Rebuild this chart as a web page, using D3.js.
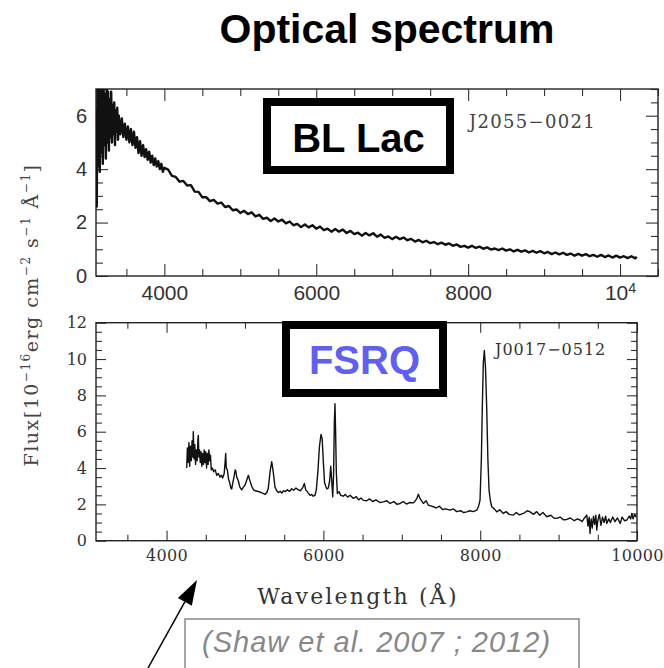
<!DOCTYPE html>
<html>
<head>
<meta charset="utf-8">
<script src="https://cdn.jsdelivr.net/npm/d3@7"></script>
<style>
  body { margin: 0; background: #fff; }
  svg { display: block; }
</style>
</head>
<body>
<svg id="chart" width="664" height="668"></svg>
<script>
// ---- Spectra: [wavelength (Å), flux (1e-16 erg cm^-2 s^-1 Å^-1)] ----
const blLacSpectrum = [
  [3100,6.2],[3110,2.6],[3120,7.4],[3130,4.1],[3140,7.6],[3150,3.9],[3160,6.9],[3170,4.6],
  [3180,7.5],[3190,4.2],[3200,7.2],[3210,4.9],[3220,6.8],[3230,4.4],[3240,7.3],[3250,5.0],
  [3260,6.9],[3270,4.7],[3280,6.6],[3290,5.2],[3300,6.9],[3310,5.0],[3320,6.4],[3330,5.3],
  [3340,6.5],[3350,4.9],[3360,6.2],[3370,5.4],[3380,6.3],[3390,5.1],[3400,6.0],
  [3420,5.3],[3440,5.9],[3460,5.2],[3480,5.7],[3500,5.1],[3520,5.6],[3540,5.0],[3560,5.5],
  [3580,4.9],[3600,5.4],[3620,4.8],[3640,5.2],[3660,4.6],[3680,5.05],[3700,4.5],[3720,4.9],
  [3740,4.45],[3760,4.75],[3780,4.35],[3800,4.65],[3820,4.25],[3840,4.5],[3860,4.15],[3880,4.4],
  [3900,4.1],[3920,4.3],[3940,4.0],[3960,4.2],[3980,3.9],[4000,4.05],
  [4050,3.98],[4100,3.75],[4150,3.71],[4200,3.53],[4250,3.56],[4300,3.39],[4350,3.40],[4400,3.16],
  [4450,3.15],[4500,2.95],[4550,2.95],[4600,2.80],[4650,2.85],[4700,2.71],[4750,2.75],[4800,2.58],
  [4850,2.62],[4900,2.46],[4950,2.49],[5000,2.36],[5050,2.44],[5100,2.32],[5150,2.38],[5200,2.23],
  [5250,2.29],[5300,2.14],[5350,2.18],[5400,2.06],[5450,2.15],[5500,2.04],[5550,2.11],[5600,1.97],
  [5650,2.04],[5700,1.90],[5750,1.95],[5800,1.83],[5850,1.93],[5900,1.82],[5950,1.90],[6000,1.77],
  [6050,1.85],[6100,1.72],[6150,1.77],[6200,1.66],[6250,1.76],[6300,1.66],[6350,1.74],[6400,1.61],
  [6450,1.69],[6500,1.57],[6550,1.62],[6600,1.51],[6650,1.61],[6700,1.52],[6750,1.60],[6800,1.47],
  [6850,1.55],[6900,1.43],[6950,1.48],[7000,1.38],[7050,1.47],[7100,1.38],[7150,1.44],[7200,1.34],
  [7250,1.39],[7300,1.29],[7350,1.35],[7400,1.26],[7450,1.32],[7500,1.23],[7550,1.27],[7600,1.19],
  [7650,1.25],[7700,1.17],[7750,1.22],[7800,1.13],[7850,1.18],[7900,1.09],[7950,1.13],[8000,1.06],
  [8050,1.13],[8100,1.05],[8150,1.10],[8200,1.02],[8250,1.07],[8300,0.99],[8350,1.03],[8400,0.97],
  [8450,1.03],[8500,0.95],[8550,1.00],[8600,0.92],[8650,0.98],[8700,0.91],[8750,0.96],[8800,0.88],
  [8850,0.94],[8900,0.87],[8950,0.93],[9000,0.85],[9050,0.90],[9100,0.82],[9150,0.88],[9200,0.81],
  [9250,0.87],[9300,0.79],[9350,0.84],[9400,0.76],[9450,0.83],[9500,0.76],[9550,0.82],[9600,0.74],
  [9650,0.79],[9700,0.72],[9750,0.79],[9800,0.71],[9850,0.77],[9900,0.69],[9950,0.76],[10000,0.69],
  [10050,0.74],[10100,0.67],[10150,0.74],[10200,0.66],[10220,0.72]
];

const fsrqSpectrum = [
  [4257,4.0],[4265,5.1],[4275,4.3],[4285,5.4],[4295,4.1],[4305,5.2],[4315,4.4],[4325,5.5],
  [4335,4.6],[4341,6.0],[4350,4.5],[4360,5.3],[4370,4.2],[4380,5.0],[4390,4.4],[4400,5.6],
  [4405,5.8],[4412,4.6],[4420,5.0],[4430,4.3],[4440,4.9],[4450,4.1],[4460,4.8],[4470,4.2],
  [4480,5.0],[4490,4.3],[4500,4.9],[4510,4.0],[4520,4.8],[4530,4.2],[4540,5.0],[4550,4.4],
  [4560,4.7],[4570,3.9],[4585,4.0],[4600,3.8],[4620,3.9],[4640,3.6],[4660,3.7],[4682,3.5],
  [4700,3.6],[4715,3.45],[4735,3.7],[4748,4.4],[4754,4.8],[4762,4.0],[4775,3.9],[4790,3.4],
  [4805,3.2],[4820,2.9],[4831,2.85],[4845,3.2],[4860,3.5],[4875,3.9],[4882,3.85],[4895,3.5],
  [4915,3.3],[4935,2.95],[4958,2.8],[4980,2.95],[5000,3.05],[5020,3.3],[5043,3.6],[5060,3.35],
  [5086,3.0],[5110,2.8],[5128,2.75],[5160,2.72],[5192,2.68],[5230,2.6],[5256,2.55],[5280,2.65],
  [5298,2.9],[5320,3.8],[5341,4.35],[5360,3.8],[5383,2.95],[5405,2.75],[5425,2.65],[5450,2.72],
  [5470,2.62],[5490,2.75],[5511,2.7],[5540,2.8],[5570,2.72],[5596,2.86],[5620,2.78],[5650,2.9],
  [5680,2.8],[5710,2.75],[5740,2.95],[5757,3.15],[5775,2.8],[5795,2.7],[5808,2.62],[5830,2.5],
  [5850,2.55],[5870,2.45],[5893,2.5],[5910,2.8],[5930,3.8],[5950,5.2],[5970,5.85],[5985,5.6],
  [6000,4.3],[6015,3.2],[6030,3.0],[6045,2.85],[6063,2.9],[6080,3.3],[6094,4.1],[6105,3.4],
  [6119,2.42],[6130,3.6],[6140,6.5],[6148,7.54],[6156,6.0],[6165,3.8],[6178,2.6],[6200,2.7],
  [6220,2.5],[6254,2.45],[6280,2.55],[6310,2.4],[6340,2.5],[6382,2.33],[6420,2.42],[6450,2.25],
  [6480,2.35],[6510,2.22],[6553,2.2],[6590,2.3],[6630,2.15],[6670,2.25],[6720,2.1],[6765,2.14],
  [6810,2.2],[6850,2.05],[6900,2.15],[6940,2.0],[6978,2.05],[7020,2.15],[7060,2.02],[7100,2.1],
  [7150,2.08],[7190,2.3],[7211,2.56],[7235,2.3],[7275,2.05],[7310,2.2],[7340,1.95],[7370,1.92],
  [7402,1.87],[7440,1.8],[7480,1.9],[7520,1.72],[7560,1.75],[7615,1.68],[7660,1.75],[7700,1.6],
  [7750,1.65],[7790,1.55],[7828,1.59],[7870,1.65],[7910,1.6],[7956,1.68],[7980,1.9],[7998,2.23],
  [8015,4.5],[8027,7.35],[8040,9.8],[8053,10.47],[8068,9.5],[8083,7.35],[8098,4.5],[8113,2.78],
  [8130,2.2],[8147,1.87],[8180,1.75],[8211,1.59],[8250,1.7],[8295,1.5],[8330,1.6],[8370,1.45],
  [8423,1.41],[8460,1.55],[8500,1.42],[8551,1.5],[8600,1.65],[8636,1.59],[8680,1.45],[8720,1.6],
  [8760,1.4],[8800,1.55],[8849,1.32],[8900,1.4],[8940,1.25],[8977,1.23],[9020,1.3],[9060,1.15],
  [9104,1.17],[9150,1.25],[9200,1.1],[9240,1.2],[9273,1.14],[9300,1.05],[9330,1.25],[9359,1.41],
  [9375,0.8],[9390,1.3],[9401,0.4],[9415,1.2],[9430,0.7],[9445,1.35],[9460,0.9],[9475,1.4],
  [9487,0.59],[9500,1.1],[9520,1.45],[9540,0.85],[9560,1.3],[9580,1.0],[9600,1.35],[9614,0.95],
  [9640,1.2],[9660,1.0],[9690,1.3],[9720,1.05],[9750,1.25],[9786,0.95],[9810,1.3],[9840,1.1],
  [9871,1.14],[9900,1.35],[9920,1.2],[9934,1.5],[9950,1.2],[9970,1.45],[9990,1.3]
];

// ---- Axis ticks ----
const topXTicks = [4000, 6000, 8000, 10000];
const topYTicks = [0, 2, 4, 6];
const botXTicks = [4000, 6000, 8000, 10000];
const botYTicks = [0, 2, 4, 6, 8, 10, 12];

// ---- Text ----
const titleText = "Optical spectrum";
const blLacName = "J2055\u22120021";
const fsrqName = "J0017\u22120512";
const blLacTag = "BL Lac";
const fsrqTag = "FSRQ";
const xLabel = "Wavelength (\u00C5)";
const citation = "(Shaw et al. 2007 ; 2012)";

const svg = d3.select("#chart");
const serif = "'DejaVu Serif', serif";
const sans = "'Liberation Sans', Arial, sans-serif";

// Scales for the two panels
const xTop = d3.scaleLinear().domain([3100, 10500]).range([96, 658]);
const yTop = d3.scaleLinear().domain([0, 7]).range([276, 89]);
const xBot = d3.scaleLinear().domain([3100, 10000]).range([96, 637]);
const yBot = d3.scaleLinear().domain([0, 12]).range([540.7, 322.7]);

function minorTicks(lo, hi, step, majors) {
  return d3.range(lo, hi + step / 2, step).filter(v => !majors.some(m => Math.abs(m - v) < 1e-6));
}

// Inward-pointing ticks on all four sides of a framed panel
function panel(x, y, o) {
  const g = svg.append("g");
  const [x0, x1] = x.range();
  const [y0, y1] = y.range();
  const [dx0, dx1] = x.domain();
  const [dy0, dy1] = y.domain();
  const xMinor = minorTicks(Math.ceil(dx0 / 500) * 500, dx1, 500, o.xTicks);
  const yMinor = minorTicks(dy0, dy1, 0.5, o.yTicks);

  [[d3.axisBottom, y0, true], [d3.axisTop, y1, false]].forEach(([fn, pos, lab]) => {
    g.append("g").attr("transform", `translate(0,${pos})`)
      .call(fn(x).tickValues(xMinor).tickSize(-o.minor).tickFormat(""));
    g.append("g").attr("class", lab ? "xlab" : "").attr("transform", `translate(0,${pos})`)
      .call(fn(x).tickValues(o.xTicks).tickSize(-o.major).tickPadding(o.xPad)
        .tickFormat(lab ? d3.format("d") : ""));
  });
  [[d3.axisLeft, x0, true], [d3.axisRight, x1, false]].forEach(([fn, pos, lab]) => {
    g.append("g").attr("transform", `translate(${pos},0)`)
      .call(fn(y).tickValues(yMinor).tickSize(-o.minor).tickFormat(""));
    g.append("g").attr("class", lab ? "ylab" : "").attr("transform", `translate(${pos},0)`)
      .call(fn(y).tickValues(o.yTicks).tickSize(-o.major).tickPadding(o.yPad)
        .tickFormat(lab ? d3.format("d") : ""));
  });
  g.selectAll(".domain").remove();
  g.selectAll(".tick line").attr("stroke", "#333").attr("stroke-width", 1.1);
  g.selectAll(".xlab text").attr("font-family", o.font).attr("font-size", o.xFont)
    .attr("fill", "#333").attr("letter-spacing", o.ls);
  g.selectAll(".ylab text").attr("font-family", o.font).attr("font-size", o.yFont)
    .attr("fill", "#333");

  g.append("rect").attr("x", x0).attr("y", y1).attr("width", x1 - x0).attr("height", y0 - y1)
    .attr("fill", "none").attr("stroke", "#222").attr("stroke-width", 1.4);

  // spectrum, clipped to the frame
  const clipId = o.id + "-clip";
  svg.append("clipPath").attr("id", clipId).append("rect")
    .attr("x", x0).attr("y", y1).attr("width", x1 - x0).attr("height", y0 - y1);
  const line = d3.line().x(d => x(d[0])).y(d => y(d[1]));
  g.append("path").datum(o.data).attr("clip-path", `url(#${clipId})`)
    .attr("d", line).attr("fill", "none").attr("stroke", "#111")
    .attr("stroke-width", o.lw).attr("stroke-linejoin", "round");
  return g;
}

const gTop = panel(xTop, yTop, {
  id: "bllac", data: blLacSpectrum, xTicks: topXTicks, yTicks: topYTicks,
  major: 12, minor: 7, xPad: 9, yPad: 9, font: sans, xFont: 21, yFont: 20, ls: 0, lw: 2.4
});
// 10^4 label on the upper panel
gTop.selectAll(".xlab text").filter(d => d === 10000).text("10")
  .append("tspan").attr("dy", "-0.45em").attr("font-size", "0.68em").text("4");

const gBot = panel(xBot, yBot, {
  id: "fsrq", data: fsrqSpectrum, xTicks: botXTicks, yTicks: botYTicks,
  major: 10, minor: 6, xPad: 9, yPad: 9, font: serif, xFont: 16, yFont: 16, ls: 0.3, lw: 1.4
});

// Object names
svg.append("text").attr("x", 469).attr("y", 128).attr("font-family", serif)
  .attr("font-size", 18).attr("letter-spacing", 1.3).attr("fill", "#444").text(blLacName);
svg.append("text").attr("x", 495).attr("y", 355).attr("font-family", serif)
  .attr("font-size", 16).attr("letter-spacing", 1).attr("fill", "#333").text(fsrqName);

// Class tags in thick frames
svg.append("rect").attr("x", 267).attr("y", 102).attr("width", 183).attr("height", 68)
  .attr("fill", "#fff").attr("stroke", "#000").attr("stroke-width", 8);
svg.append("text").attr("x", 358.5).attr("y", 152).attr("text-anchor", "middle")
  .attr("font-family", sans).attr("font-weight", "bold").attr("font-size", 40)
  .attr("fill", "#000").text(blLacTag);

svg.append("rect").attr("x", 286).attr("y", 325).attr("width", 157).attr("height", 68)
  .attr("fill", "#fff").attr("stroke", "#000").attr("stroke-width", 8);
svg.append("text").attr("x", 364.5).attr("y", 374).attr("text-anchor", "middle")
  .attr("font-family", sans).attr("font-weight", "bold").attr("font-size", 40)
  .attr("fill", "#5f5ff0").text(fsrqTag);

// Title
svg.append("text").attr("x", 387).attr("y", 43).attr("text-anchor", "middle")
  .attr("font-family", sans).attr("font-weight", "bold").attr("font-size", 41)
  .attr("fill", "#000").text(titleText);

// Axis titles
svg.append("text").attr("x", 358).attr("y", 604).attr("text-anchor", "middle")
  .attr("font-family", serif).attr("font-size", 22).attr("letter-spacing", 2.2)
  .attr("fill", "#333").text(xLabel);

const yl = svg.append("text").attr("transform", "translate(38,315) rotate(-90)")
  .attr("text-anchor", "middle").attr("font-family", serif).attr("font-size", 19)
  .attr("letter-spacing", 1.5).attr("fill", "#444");
const ylParts = [
  ["Flux[10", 0], ["\u221216", 1], ["erg cm", 0], ["\u22122", 1], [" s", 0],
  ["\u22121", 1], [" \u00C5", 0], ["\u22121", 1], ["]", 0]
];
let prevSup = 0;
ylParts.forEach(([t, sup]) => {
  const dy = sup && !prevSup ? -8 : (!sup && prevSup ? 8 : 0);
  yl.append("tspan").attr("dy", dy).attr("font-size", sup ? 12 : 19).text(t);
  prevSup = sup;
});

// Citation box and pointer arrow
svg.append("rect").attr("x", 185).attr("y", 619).attr("width", 394).attr("height", 70)
  .attr("fill", "none").attr("stroke", "#888").attr("stroke-width", 1.5);
svg.append("text").attr("x", 202).attr("y", 652).attr("font-family", sans)
  .attr("font-style", "italic").attr("font-size", 29).attr("letter-spacing", 1)
  .attr("fill", "#888").text(citation);

const tip = [197, 580], tail = [148, 668];
const len = Math.hypot(tip[0] - tail[0], tip[1] - tail[1]);
const ux = (tip[0] - tail[0]) / len, uy = (tip[1] - tail[1]) / len;
const base = [tip[0] - 25 * ux, tip[1] - 25 * uy];
svg.append("line").attr("x1", tail[0]).attr("y1", tail[1]).attr("x2", base[0]).attr("y2", base[1])
  .attr("stroke", "#000").attr("stroke-width", 1.5);
svg.append("path").attr("d", d3.line()([
  tip, [base[0] - 8 * uy, base[1] + 8 * ux], [base[0] + 8 * uy, base[1] - 8 * ux]
]) + "Z").attr("fill", "#000");
</script>
</body>
</html>
